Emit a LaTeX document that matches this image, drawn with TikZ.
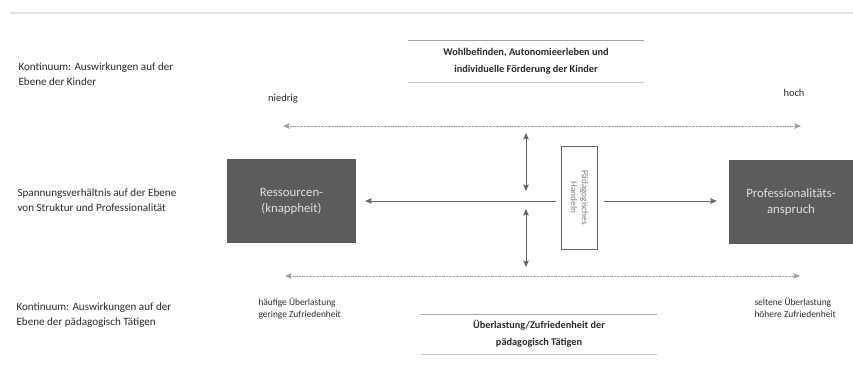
\documentclass[tikz,border=0pt]{standalone}
\usepackage{fontspec}
\setmainfont{Carlito}
\usetikzlibrary{positioning, arrows.meta}

\definecolor{boxgrau}{HTML}{5C5C5C}
\definecolor{pfeilgrau}{HTML}{666666}
\definecolor{textgrau}{HTML}{2A2A2A}

\tikzset{
  ebene/.style={align=left, anchor=west, text=textgrau, font=\fontsize{11.1}{15}\selectfont},
  klein/.style={align=left, text=textgrau, font=\fontsize{9.4}{12}\selectfont},
  titel/.style={align=center, text=textgrau, font=\bfseries\fontsize{10.3}{17}\selectfont},
  pol/.style={fill=boxgrau, text=white!88!black, align=center, minimum height=84pt,
    font=\fontsize{12.8}{16}\selectfont},
  pfeil/.style={<-, line width=1pt, pfeilgrau},
  kontinuum/.style={<->, densely dotted, gray!75},
}

\begin{document}
\begin{tikzpicture}[x=1pt, y=-1pt, >={Stealth[length=6.5pt, width=5.5pt, inset=1pt]}]
  \useasboundingbox (0,0) rectangle (853,372);

  % --- 1. Kopflinie ---
  \draw[line width=1.5pt, gray!22] (10,13) -- (853,13);

  % --- 2. Ebenen links ---
  \node[ebene] (kinder) at (15,74) {Kontinuum: Auswirkungen auf der\\Ebene der Kinder};
  \node[ebene] (struktur) at (14,200) {Spannungsverhältnis auf der Ebene\\von Struktur und Professionalität};
  \node[ebene] (taetige) at (13,315) {Kontinuum: Auswirkungen auf der\\Ebene der pädagogisch Tätigen};

  % --- 3. Titel oben und unten (mit Linien) ---
  \node[titel, minimum width=235pt, minimum height=42pt] (wohl) at (526,61)
    {Wohlbefinden, Autonomieerleben und\\individuelle Förderung der Kinder};
  \draw[gray!70] (wohl.north west) -- (wohl.north east);
  \draw[gray!45] (wohl.south west) -- (wohl.south east);

  \node[titel, minimum width=235pt, minimum height=40pt] (last) at (539,334)
    {Überlastung/Zufriedenheit der\\pädagogisch Tätigen};
  \draw[gray!70] (last.north west) -- (last.north east);
  \draw[gray!45] (last.south west) -- (last.south east);

  % --- 4. Kontinuum Kinder ---
  \node[klein, font=\fontsize{10.5}{12}\selectfont] (niedrig) at (283,99) {niedrig};
  \node[klein, font=\fontsize{10.5}{12}\selectfont] (hoch) at (794,93) {hoch};
  \coordinate (k1) at (283,126);
  \coordinate (k2) at (801,126);
  \draw[kontinuum] (k1) -- (k2);

  % --- 5. Pole und Handeln ---
  \node[pol, minimum width=129pt] (res) at (291.5,201) {Ressourcen-\\(knappheit)};
  \node[pol, minimum width=124pt] (prof) at (791,202) {Professionalitäts-\\anspruch};
  \node[draw, pfeilgrau, thick, fill=white, rotate=-90, minimum width=103pt, minimum height=36pt,
    align=center, text=gray, font=\fontsize{9.3}{11}\selectfont] (hand) at (579.5,197.5)
    {Pädagogisches\\Handeln};

  % Handeln -> Ressourcen, Handeln -> Professionalitaet
  \draw[pfeil, shorten <=9pt, shorten >=5pt] (res.east) -- (res.east -| hand.south);
  \draw[pfeil, shorten <=12pt, shorten >=6pt] (prof.west |- res.east) -- (hand.north |- res.east);

  % --- 6. senkrechte Pfeile ---
  \coordinate (v1) at (526,133);
  \coordinate (v2) at (526,191);
  \coordinate (v3) at (526,209);
  \coordinate (v4) at (526,267);
  \draw[<->, line width=1pt, pfeilgrau] (v1) -- (v2);
  \draw[<->, line width=1pt, pfeilgrau] (v3) -- (v4);

  % --- 7. Kontinuum Taetige ---
  \coordinate (t1) at (285,276);
  \coordinate (t2) at (800,276);
  \draw[kontinuum] (t1) -- (t2);
  \node[klein, anchor=west] (haeufig) at (255,309) {häufige Überlastung\\geringe Zufriedenheit};
  \node[klein, anchor=west] (selten) at (751,308) {seltene Überlastung\\höhere Zufriedenheit};

\end{tikzpicture}
\end{document}
